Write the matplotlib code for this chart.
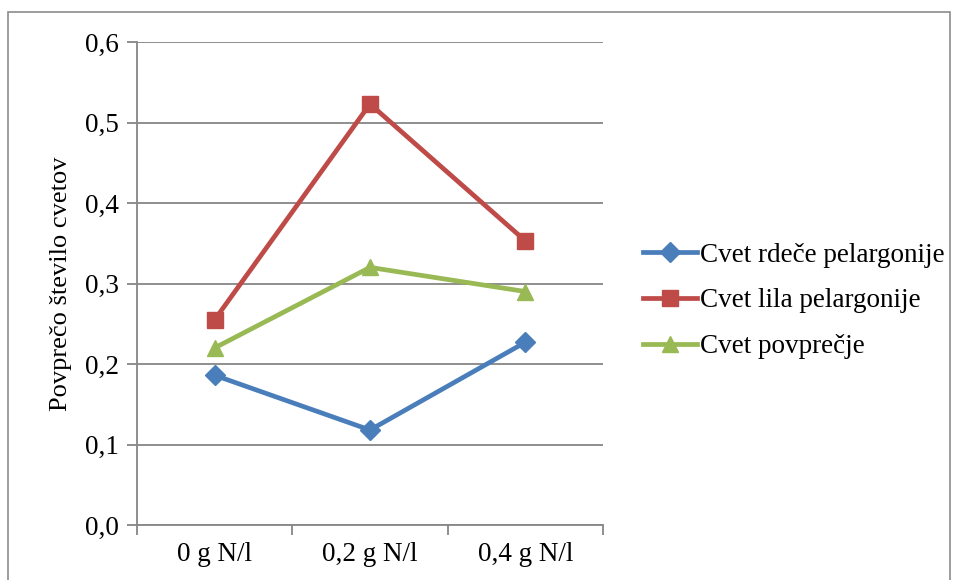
import matplotlib.pyplot as plt
from matplotlib.patches import Rectangle

categories = ["0 g N/l", "0,2 g N/l", "0,4 g N/l"]
rdece = [0.186, 0.118, 0.227]
lila = [0.255, 0.523, 0.353]
povprecje = [0.220, 0.320, 0.290]
y_ticks = [0.0, 0.1, 0.2, 0.3, 0.4, 0.5, 0.6]
y_labels = ["0,0", "0,1", "0,2", "0,3", "0,4", "0,5", "0,6"]

plt.rcParams["font.family"] = ["Liberation Serif", "DejaVu Serif"]
FS = 19.5

W, H = 958, 580
fig = plt.figure(figsize=(W / 100, H / 100), dpi=100)
ax = fig.add_axes([137 / W, 1 - 525 / H, (603 - 137) / W, (525 - 42) / H])

# outer chart border
fig.patches.append(Rectangle((8 / W, -0.02), (950 - 8) / W, 1.02 - 12 / H,
                             transform=fig.transFigure, fill=False,
                             edgecolor="#8c8c8c", linewidth=1.2))

x = range(len(categories))
series = [
    ("Cvet rdeče pelargonije", rdece, "#4A7EBB", "D", 10),
    ("Cvet lila pelargonije", lila, "#BE4B48", "s", 12),
    ("Cvet povprečje", povprecje, "#98B954", "^", 12),
]
for label, vals, color, marker, ms in series:
    ax.plot(x, vals, color=color, linewidth=3.4, marker=marker,
            markersize=ms, label=label, zorder=3)

ax.set_xlim(-0.5, 2.5)
ax.set_ylim(0, 0.6)
ax.set_yticks(y_ticks)
ax.set_yticklabels(y_labels, fontsize=FS)
ax.set_xticks([0, 1, 2])
ax.set_xticklabels(categories, fontsize=FS)
ax.set_xticks([-0.5, 0.5, 1.5, 2.5], minor=True)
ax.tick_params(axis="x", which="major", length=0, pad=12)
ax.tick_params(axis="x", which="minor", length=7, color="#868686", width=1.3)
ax.tick_params(axis="y", length=7, color="#868686", width=1.3, pad=6)

ax.grid(axis="y", color="#868686", linewidth=1.3)
ax.set_axisbelow(True)
for side in ["top", "right"]:
    ax.spines[side].set_visible(False)
for side in ["left", "bottom"]:
    ax.spines[side].set_color("#868686")
    ax.spines[side].set_linewidth(1.3)

ax.set_ylabel("Povprečo število cvetov", fontsize=FS - 0.5, labelpad=9)

ax.legend(loc="center left", bbox_to_anchor=(1.086, 0.464), frameon=False,
          fontsize=FS, handlelength=2.0, handletextpad=0.1,
          labelspacing=0.77, borderpad=0, borderaxespad=0)

fig.savefig("out.png", dpi=100)
